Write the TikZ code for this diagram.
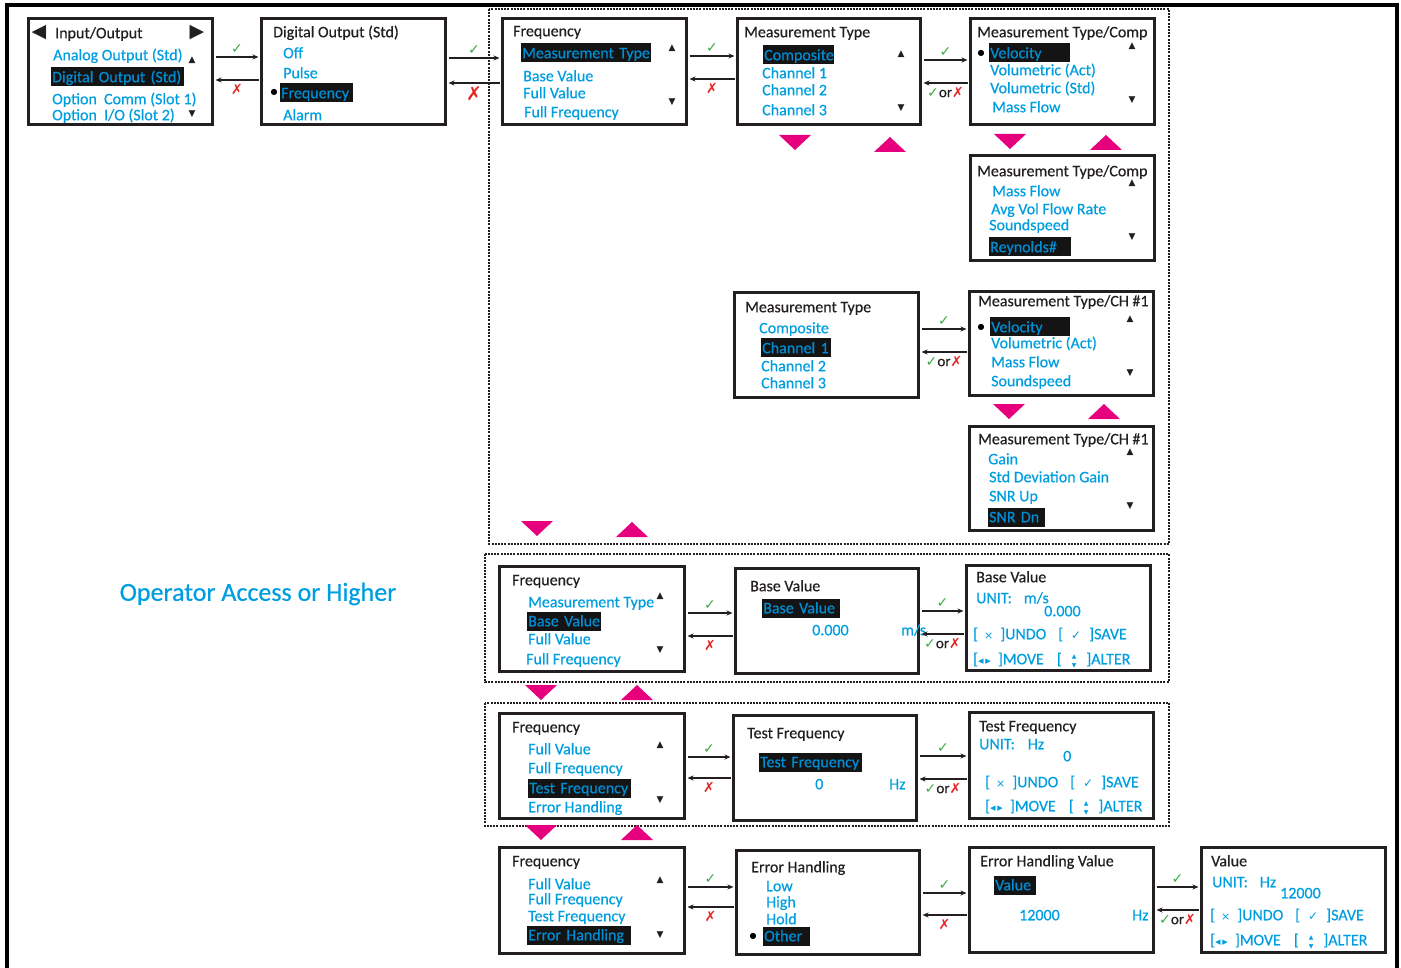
\documentclass[tikz,border=0pt]{standalone}
\usepackage{fontspec}
\setmainfont{Carlito}
\newfontfamily\lcdfont{Carlito}[FakeBold=0.5]
\newfontfamily\symf{DejaVu Sans}
\usetikzlibrary{arrows.meta,fit}

\definecolor{lcdblue}{RGB}{0,158,224}
\definecolor{selblue}{RGB}{0,140,210}
\definecolor{inkgray}{RGB}{35,31,32}
\definecolor{scrollpink}{RGB}{230,0,126}
\definecolor{okgreen}{RGB}{60,170,70}
\definecolor{nored}{RGB}{230,35,35}

\newcommand\lcd{\lcdfont\fontsize{16}{18}\selectfont}
\newcommand\ck{{\symf\fontsize{14}{14}\selectfont\color{okgreen}✓}}
\newcommand\nx{{\symf\fontsize{14}{14}\selectfont\color{nored}✗}}
\newcommand\bignx{{\symf\fontsize{19}{19}\selectfont\color{nored}✗}}
\newcommand\orx{{\lcdfont\fontsize{15}{15}\selectfont\color{inkgray}{\symf\fontsize{14}{14}\selectfont\color{okgreen}✓}or{\symf\fontsize{14}{14}\selectfont\color{nored}✗}}}
\newcommand\updn{\rlap{\raisebox{6pt}[0pt][0pt]{\symf\fontsize{6}{6}\selectfont ▲}}\raisebox{-3pt}[0pt][0pt]{\symf\fontsize{6}{6}\selectfont ▼}}
\newcommand\undoline{[\hspace{6pt}{\symf\fontsize{11}{11}\selectfont ×}\hspace{7pt}]UNDO\hspace{12pt}[\hspace{8pt}{\symf\fontsize{12}{12}\selectfont ✓}\hspace{8pt}]SAVE}
\newcommand\moveline{[{\symf\fontsize{11}{11}\selectfont ◂\,▸}\hspace{7pt}]MOVE\hspace{13pt}[\hspace{10pt}\updn\hspace{10pt}]ALTER}

\tikzset{
  scr/.style={draw=inkgray, line width=3pt, inner sep=-1.5pt},
  zone/.style={draw=inkgray, line width=1.2pt, dash pattern=on 2pt off 1.2pt},
  ttl/.style={anchor=west, inner sep=0pt, text height=10.5pt, text depth=0pt, text=inkgray, font=\lcd},
  itm/.style={ttl, text=lcdblue},
  sel/.style={itm, text=selblue, fill=black!92, inner xsep=1pt, inner ysep=4.25pt, text width=#1pt, align=left},
  scrollmark/.style={inner sep=0pt, text=inkgray, font=\symf\fontsize{9}{9}\selectfont},
  selbullet/.style={inner sep=0pt, text=black, font=\symf\fontsize{8}{8}\selectfont},
  nav/.style={-{Stealth[length=6pt,width=5pt]}, line width=1.1pt, draw=inkgray, shorten <=1.5pt, shorten >=1.5pt}
}

\newcommand\screen[3]{\node[scr, fit={(#2) (#3)}] (#1) {};}
\newcommand\navpair[5]{%
  \draw[nav] (#1.east |- 0,#3) -- node[above=0pt] (#1#2ok) {\ck} (#2.west |- 0,#3);
  \draw[nav] (#2.west |- 0,#4) -- node[below=0pt] (#1#2no) {#5} (#1.east |- 0,#4);}
\newcommand\scrolldn[2]{\fill[scrollpink] (#1-16,#2) -- (#1+16,#2) -- (#1,#2+15) -- cycle;}
\newcommand\scrollup[2]{\fill[scrollpink] (#1-16,#2) -- (#1+16,#2) -- (#1,#2-15) -- cycle;}

\begin{document}
\begin{tikzpicture}[x=1pt, y=-1pt]
  \useasboundingbox (0,0) rectangle (1401,968);
  \draw[line width=4pt] (7,990) -- (7,5) -- (1397,5) -- (1397,990);

  \draw[zone] (489,9) rectangle (1169,544);
  \draw[zone] (485,554) rectangle (1169,682);
  \draw[zone] (485,703) rectangle (1169,826);

  \node[text=lcdblue, font=\lcdfont\fontsize{26}{28}\selectfont] (access) at (258,594) {Operator Access or Higher};

  \screen{io}{27,17}{214,126}
  \screen{dout}{260,17}{447,126}
  \screen{freqa}{501,17}{688,126}
  \screen{mtype}{736,17}{922,126}
  \screen{comp}{969,17}{1156,126}
  \screen{compb}{969,154}{1156,262}
  \screen{mtypeb}{733,291}{920,399}
  \screen{cha}{968,290}{1155,397}
  \screen{chb}{968,425}{1155,532}
  \screen{freqb}{498,565}{686,673}
  \screen{base}{734,567}{920,675}
  \screen{basee}{965,564}{1152,672}
  \screen{freqc}{498,712}{686,820}
  \screen{testf}{732,714}{918,822}
  \screen{teste}{968,711}{1155,820}
  \screen{freqd}{498,846}{686,955}
  \screen{errh}{735,849}{921,956}
  \screen{errv}{968,846}{1155,954}
  \screen{val}{1200,846}{1387,954}

  % Input/Output
  \node[scrollmark, font=\symf\fontsize{19}{19}\selectfont] (io-l) at (39,33) {◀};
  \node[ttl] (io-t) at (55,33) {Input/Output};
  \node[scrollmark, font=\symf\fontsize{19}{19}\selectfont] (io-r) at (197,33) {▶};
  \node[itm] (io-1) at (53,55) {Analog Output (Std)};
  \node[scrollmark] (io-u) at (192,60) {▲};
  \node[sel=131] (io-2) at (51,77) {Digital Output (Std)};
  \node[itm] (io-3) at (52,99) {Option\ \ Comm (Slot 1)};
  \node[itm] (io-4) at (52,115) {Option\ \ I/O (Slot 2)};
  \node[scrollmark] (io-d) at (192,114) {▼};

  % Digital Output
  \node[ttl] (dout-t) at (273,32) {Digital Output (Std)};
  \node[itm] (dout-1) at (283,53) {Off};
  \node[itm] (dout-2) at (283,73) {Pulse};
  \node[selbullet] (dout-b) at (274,92) {●};
  \node[sel=71] (dout-3) at (280,93) {Frequency};
  \node[itm] (dout-4) at (283,115) {Alarm};

  % Frequency menus
  \node[ttl] (freqa-t) at (513,31) {Frequency};
  \node[sel=128] (freqa-1) at (521,53) {Measurement Type};
  \node[scrollmark] (freqa-u) at (672,48) {▲};
  \node[itm] (freqa-2) at (523,76) {Base Value};
  \node[itm] (freqa-3) at (523,93) {Full Value};
  \node[itm] (freqa-4) at (524,112) {Full Frequency};
  \node[scrollmark] (freqa-d) at (672,102) {▼};

  \node[ttl] (freqb-t) at (512,580) {Frequency};
  \node[itm] (freqb-1) at (528,602) {Measurement Type};
  \node[scrollmark] (freqb-u) at (660,596) {▲};
  \node[sel=72] (freqb-2) at (527,621) {Base Value};
  \node[itm] (freqb-3) at (528,639) {Full Value};
  \node[itm] (freqb-4) at (526,659) {Full Frequency};
  \node[scrollmark] (freqb-d) at (660,650) {▼};

  \node[ttl] (freqc-t) at (512,727) {Frequency};
  \node[itm] (freqc-1) at (528,749) {Full Value};
  \node[scrollmark] (freqc-u) at (660,745) {▲};
  \node[itm] (freqc-2) at (528,768) {Full Frequency};
  \node[sel=101] (freqc-3) at (528,788) {Test Frequency};
  \node[itm] (freqc-4) at (528,807) {Error Handling};
  \node[scrollmark] (freqc-d) at (660,800) {▼};

  \node[ttl] (freqd-t) at (512,861) {Frequency};
  \node[itm] (freqd-1) at (528,884) {Full Value};
  \node[scrollmark] (freqd-u) at (660,880) {▲};
  \node[itm] (freqd-2) at (528,899) {Full Frequency};
  \node[itm] (freqd-3) at (528,916) {Test Frequency};
  \node[sel=102] (freqd-4) at (527,935) {Error Handling};
  \node[scrollmark] (freqd-d) at (660,935) {▼};

  % Measurement Type
  \node[ttl] (mtype-t) at (744,32) {Measurement Type};
  \node[sel=69] (mtype-1) at (763,55) {Composite};
  \node[scrollmark] (mtype-u) at (901,54) {▲};
  \node[itm] (mtype-2) at (762,73) {Channel 1};
  \node[itm] (mtype-3) at (762,90) {Channel 2};
  \node[itm] (mtype-4) at (762,110) {Channel 3};
  \node[scrollmark] (mtype-d) at (901,108) {▼};

  \node[ttl] (mtypeb-t) at (745,307) {Measurement Type};
  \node[itm] (mtypeb-1) at (759,328) {Composite};
  \node[sel=68] (mtypeb-2) at (761,348) {Channel 1};
  \node[itm] (mtypeb-3) at (761,366) {Channel 2};
  \node[itm] (mtypeb-4) at (761,383) {Channel 3};

  % Measurement Type/Comp
  \node[ttl] (comp-t) at (977,32) {Measurement Type/Comp};
  \node[selbullet] (comp-b) at (981,53) {●};
  \node[sel=79] (comp-1) at (989,53) {Velocity};
  \node[scrollmark] (comp-u) at (1132,46) {▲};
  \node[itm] (comp-2) at (990,70) {Volumetric (Act)};
  \node[itm] (comp-3) at (990,88) {Volumetric (Std)};
  \node[itm] (comp-4) at (992,107) {Mass Flow};
  \node[scrollmark] (comp-d) at (1132,100) {▼};

  \node[ttl] (compb-t) at (977,171) {Measurement Type/Comp};
  \node[scrollmark] (compb-u) at (1132,183) {▲};
  \node[itm] (compb-1) at (992,191) {Mass Flow};
  \node[itm] (compb-2) at (991,209) {Avg Vol Flow Rate};
  \node[itm] (compb-3) at (989,225) {Soundspeed};
  \node[sel=80] (compb-4) at (989,247) {Reynolds\#};
  \node[scrollmark] (compb-d) at (1132,237) {▼};

  % Measurement Type/CH #1
  \node[ttl] (cha-t) at (978,301) {Measurement Type/CH \#1};
  \node[selbullet] (cha-b) at (981,327) {●};
  \node[sel=78] (cha-1) at (990,327) {Velocity};
  \node[scrollmark] (cha-u) at (1130,319) {▲};
  \node[itm] (cha-2) at (991,343) {Volumetric (Act)};
  \node[itm] (cha-3) at (991,362) {Mass Flow};
  \node[itm] (cha-4) at (991,381) {Soundspeed};
  \node[scrollmark] (cha-d) at (1130,373) {▼};

  \node[ttl] (chb-t) at (978,439) {Measurement Type/CH \#1};
  \node[scrollmark] (chb-u) at (1130,452) {▲};
  \node[itm] (chb-1) at (988,459) {Gain};
  \node[itm] (chb-2) at (989,477) {Std Deviation Gain};
  \node[itm] (chb-3) at (989,496) {SNR Up};
  \node[scrollmark] (chb-d) at (1130,506) {▼};
  \node[sel=55] (chb-4) at (988,517) {SNR Dn};

  % Base Value
  \node[ttl] (base-t) at (750,586) {Base Value};
  \node[sel=76] (base-1) at (762,608) {Base Value};
  \node[itm] (base-2) at (812,630) {0.000};
  \node[itm] (base-3) at (901,630) {m/s};

  \node[ttl] (basee-t) at (976,577) {Base Value};
  \node[itm] (basee-1) at (976,598) {UNIT:\hspace{12pt}m/s};
  \node[itm] (basee-2) at (1044,611) {0.000};
  \node[itm] (basee-3) at (973,634) {\undoline};
  \node[itm] (basee-4) at (973,659) {\moveline};

  % Test Frequency
  \node[ttl] (testf-t) at (747,733) {Test Frequency};
  \node[sel=101] (testf-1) at (759,762) {Test Frequency};
  \node[itm] (testf-2) at (815,784) {0};
  \node[itm] (testf-3) at (889,784) {Hz};

  \node[ttl] (teste-t) at (979,726) {Test Frequency};
  \node[itm] (teste-1) at (979,744) {UNIT:\hspace{13pt}Hz};
  \node[itm] (teste-2) at (1063,756) {0};
  \node[itm] (teste-3) at (985,782) {\undoline};
  \node[itm] (teste-4) at (985,806) {\moveline};

  % Error Handling
  \node[ttl] (errh-t) at (751,867) {Error Handling};
  \node[itm] (errh-1) at (766,886) {Low};
  \node[itm] (errh-2) at (766,902) {High};
  \node[itm] (errh-3) at (766,919) {Hold};
  \node[selbullet] (errh-b) at (753,936) {●};
  \node[sel=45] (errh-4) at (763,936) {Other};

  \node[ttl] (errv-t) at (980,861) {Error Handling Value};
  \node[sel=40] (errv-1) at (994,885) {Value};
  \node[itm] (errv-2) at (1019,915) {12000};
  \node[itm] (errv-3) at (1132,915) {Hz};

  \node[ttl] (val-t) at (1211,861) {Value};
  \node[itm] (val-1) at (1212,882) {UNIT:\hspace{12pt}Hz};
  \node[itm] (val-2) at (1280,893) {12000};
  \node[itm] (val-3) at (1210,915) {\undoline};
  \node[itm] (val-4) at (1210,940) {\moveline};

  % enter / back
  \navpair{io}{dout}{57}{80}{\nx}
  \navpair{dout}{freqa}{58}{83}{\bignx}
  \navpair{freqa}{mtype}{56}{79}{\nx}
  \navpair{mtype}{comp}{60}{83}{\orx}
  \navpair{mtypeb}{cha}{329}{352}{\orx}
  \navpair{freqb}{base}{613}{636}{\nx}
  \navpair{base}{basee}{611}{634}{\orx}
  \navpair{freqc}{testf}{757}{778}{\nx}
  \navpair{testf}{teste}{756}{779}{\orx}
  \navpair{freqd}{errh}{887}{907}{\nx}
  \navpair{errh}{errv}{893}{915}{\nx}
  \navpair{errv}{val}{887}{910}{\orx}

  % scroll
  \scrolldn{795}{135} \scrollup{890}{152}
  \scrolldn{1010}{134} \scrollup{1106}{150}
  \scrolldn{1009}{404} \scrollup{1104}{419}
  \scrolldn{537}{521} \scrollup{632}{537}
  \scrolldn{541}{685} \scrollup{637}{700}
  \scrolldn{541}{825} \scrollup{637}{840}
\end{tikzpicture}
\end{document}
